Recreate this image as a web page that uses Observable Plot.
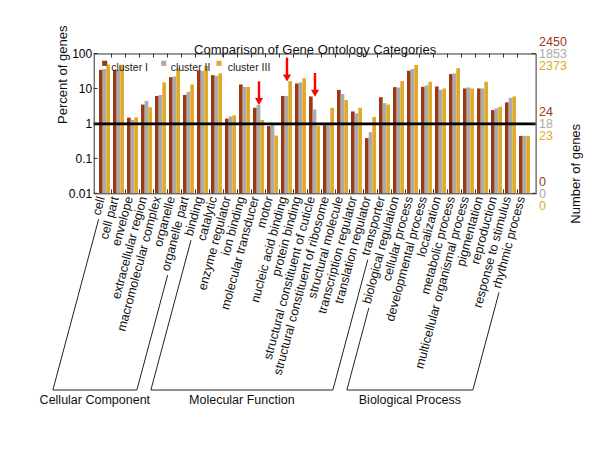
<!DOCTYPE html>
<html><head><meta charset="utf-8">
<script src="https://cdn.jsdelivr.net/npm/d3@7"></script>
<script src="https://cdn.jsdelivr.net/npm/@observablehq/plot@0.6"></script>
<style>
body{margin:0;background:#fff;font-family:"Liberation Sans",Arial,Helvetica,sans-serif}
</style>
</head><body><div id="chart"></div>
<script>
// ---- data ----
const cellularComponent = ["cell","cell part","envelope","extracellular region","macromolecular complex","organelle","organelle part"];
const molecularFunction = ["binding","catalytic","enzyme regulator","ion binding","molecular transducer","motor","nucleic acid binding","protein binding","structural constituent of cuticle","structural constituent of ribosome","structural molecule","transcription regulator","translation regulator","transporter"];
const biologicalProcess = ["biological regulation","cellular process","developmental process","localization","metabolic process","multicellular organismal process","pigmentation","reproduction","response to stimulus","rhythmic process"];
const groupNames = ["Cellular Component","Molecular Function","Biological Process"];
const categories = [...cellularComponent, ...molecularFunction, ...biologicalProcess];

const clusterI   = [34,34,1.46,3.46,6.1,21,6.5, 33,24,1.37,13,2.8,0.84,6.1,13.9,5.9,0.89,9.1,2.2,0.38,5.6, 10.9,32,11.1,11.4,25.8,10,10,2.4,4.0,0.44];
const clusterII  = [36,34,1.25,4.4,6.5,22,8, 32,23,1.59,11.1,3.4,0.93,6.1,14.9,2.5,0.89,6.9,1.94,0.56,3.8, 10.6,36,12.2,9.1,27,10.7,10,2.7,5.4,0.44];
const clusterIII = [48,48,1.49,2.9,14.9,38,13, 44,27,1.7,11,1.25,0.45,16.2,19.5,0.84,2.8,4.7,2.8,1.52,3.46, 16.2,47,15.5,10,38,10,15.5,3.0,5.9,0.44];
const clusterNames = ["cluster I","cluster II","cluster III"];
const clusterColors = ["#9b3914","#ababab","#e0ab2a"];

const yTicks = [100,10,1,0.1,0.01];
const yTickLabels = ["100","10","1","0.1","0.01"];
const rightTicks = [100,1,0.01];
const rightLabelsI = ["2450","24","0"];
const rightLabelsII = ["1853","18","0"];
const rightLabelsIII = ["2373","23","0"];
const markedCategories = ["molecular transducer","nucleic acid binding","structural constituent of cuticle"];

// ---- layout ----
const W = 600, H = 451, mL = 93.7, mR = 64.4, mT = 53.5, mB = 257.7;
const padIn = 0.23;
const step = (W - mL - mR) / categories.length;
const third = step * (1 - padIn) / 3;
const labelDy = 4, labelAngle = 75, labelFont = 12.5;

const series = [clusterI, clusterII, clusterIII];
const barMarks = series.map((vals, k) =>
  Plot.barY(categories.map((c, i) => ({category: c, value: vals[i]})), {
    x: "category", y1: 0.01, y2: "value", fill: clusterColors[k],
    insetLeft: k * third, insetRight: (2 - k) * third
  })
);

const arrowRows = markedCategories.map(c => {
  const i = categories.indexOf(c);
  const tip = Math.max(clusterI[i], clusterII[i], clusterIII[i]) * 1.02;
  return {category: c, tip, tail: tip * 4.6};
});

const rightSets = [rightLabelsI, rightLabelsII, rightLabelsIII];
const rightMarks = rightSets.map((labels, k) =>
  Plot.text(rightTicks, {y: d => d, text: (d, i) => labels[i], frameAnchor: "right",
    dx: 3, dy: (k - 1) * 11.7, textAnchor: "start", fill: clusterColors[k], fontSize: 12.5})
);

const legendSquareDx = [10.5, 69.5, 124.8];
const legendTextDx = [17, 76.5, 133.5];
const legendMarks = clusterNames.flatMap((name, k) => [
  Plot.dot([name], {frameAnchor: "top-left", dx: legendSquareDx[k], dy: 9.3, symbol: "square", r: 2.9, fill: clusterColors[k], stroke: null}),
  Plot.text([name], {text: d => d, frameAnchor: "top-left", dx: legendTextDx[k], dy: 9.3, textAnchor: "start", fontSize: 10.5, fill: "#222"})
]);

const plot = Plot.plot({
  width: W, height: H,
  marginLeft: mL, marginRight: mR, marginTop: mT, marginBottom: mB,
  style: {fontFamily: '"Liberation Sans", Arial, sans-serif', background: "#fff"},
  x: {domain: categories, paddingInner: padIn, paddingOuter: padIn / 2, axis: null},
  y: {type: "log", domain: [0.01, 100], axis: null},
  marks: [
    ...barMarks,
    Plot.ruleY([1], {stroke: "#000", strokeWidth: 2.6}),
    Plot.frame({stroke: "#333", strokeWidth: 1}),
    Plot.axisY({ticks: yTicks, tickFormat: d => yTickLabels[yTicks.indexOf(d)], tickSize: 0, tickPadding: 2, fontSize: 12, label: null}),
    Plot.text(categories, {x: d => d, text: d => d, frameAnchor: "bottom", dy: labelDy, rotate: -labelAngle, textAnchor: "end", fontSize: labelFont, fill: "#111"}),
    Plot.ruleX(arrowRows, {x: "category", y1: "tail", y2: "tip", stroke: "#f00", strokeWidth: 2.4, insetBottom: 5}),
    Plot.dot(arrowRows, {x: "category", y: "tip", symbol: "triangle", rotate: 180, r: 3, fill: "#f00", stroke: null, dy: -4.6}),
    ...rightMarks,
    ...legendMarks,
    Plot.text(["Comparison of Gene Ontology Categories"], {text: d => d, frameAnchor: "top", dy: -9.5, fontSize: 13, fill: "#111"}),
    Plot.text(["Percent of genes"], {text: d => d, frameAnchor: "left", dx: -31, rotate: -90, fontSize: 13, fill: "#111"}),
    Plot.text(["Number of genes"], {text: d => d, frameAnchor: "right", dx: 39.5, rotate: -90, fontSize: 13, fill: "#111"})
  ]
});
document.getElementById("chart").appendChild(plot);

// ---- inward ticks and group brackets, placed with the plot's own scales ----
const xs = plot.scale("x"), ys = plot.scale("y");
const bw = xs.bandwidth, st = xs.step;
const cx = c => xs.apply(c) + bw / 2;
const svg = d3.select(plot);
const g = svg.append("g").attr("stroke", "#333").attr("stroke-width", 1).attr("fill", "none");
const frameTop = ys.apply(100), frameBottom = ys.apply(0.01);
for (let i = 1; i < categories.length; i++) {
  const bx = xs.apply(categories[i]) - (st - bw) / 2;
  g.append("line").attr("x1", bx).attr("x2", bx).attr("y1", frameTop).attr("y2", frameTop + 4);
  g.append("line").attr("x1", bx).attr("x2", bx).attr("y1", frameBottom).attr("y2", frameBottom - 4);
}
yTicks.forEach(v => {
  const yy = ys.apply(v);
  g.append("line").attr("x1", mL).attr("x2", mL + 4).attr("y1", yy).attr("y2", yy);
});
rightTicks.forEach(v => {
  const yy = ys.apply(v);
  g.append("line").attr("x1", W - mR).attr("x2", W - mR - 4).attr("y1", yy).attr("y2", yy);
});

const ctx = document.createElement("canvas").getContext("2d");
ctx.font = `${labelFont}px "Liberation Sans", Arial, sans-serif`;
const ang = labelAngle * Math.PI / 180, ca = Math.cos(ang), sa = Math.sin(ang);
const y0 = frameBottom + labelDy, gap = 4, baseY = 390;
function startPt(c) {
  const L = ctx.measureText(c).width + gap;
  const px = cx(c) - L * ca, py = y0 + L * sa;
  return [px, py, px - (baseY - py) * ca / sa];
}
[cellularComponent, molecularFunction, biologicalProcess].forEach((grp, gi) => {
  const p = startPt(grp[0]), q = startPt(grp[grp.length - 1]);
  svg.append("polyline")
    .attr("points", `${p[0]},${p[1]} ${p[2]},${baseY} ${q[2]},${baseY} ${q[0]},${q[1]}`)
    .attr("fill", "none").attr("stroke", "#222").attr("stroke-width", 1);
  svg.append("text").attr("x", (p[2] + q[2]) / 2).attr("y", baseY + 10.5)
    .attr("text-anchor", "middle").attr("dominant-baseline", "middle")
    .attr("font-size", 12.5).attr("fill", "#111").text(groupNames[gi]);
});
</script>
</body></html>
